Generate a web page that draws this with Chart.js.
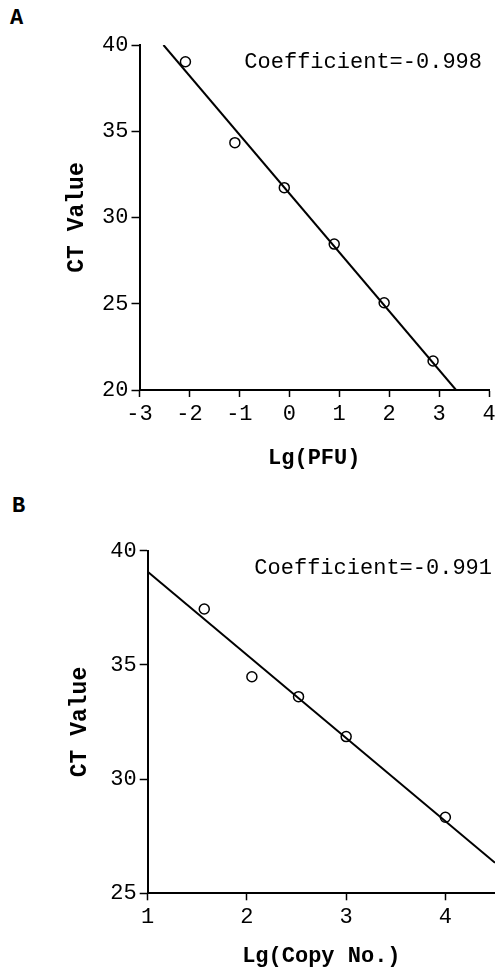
<!DOCTYPE html>
<html>
<head>
<meta charset="utf-8">
<script src="https://cdn.jsdelivr.net/npm/chart.js@4/dist/chart.umd.min.js"></script>
<style>
  body { margin: 0; background: #fff; }
  #wrap { position: relative; width: 495px; height: 974px; overflow: hidden; }
  canvas { position: absolute; left: 0; }
  .panel { position: absolute; font: bold 22px "Liberation Mono", monospace; color: #000; }
</style>
</head>
<body>
<div id="wrap">
  <div class="panel" style="left:10px; top:6px;">A</div>
  <canvas id="chartA" width="495" height="480" style="top:0"></canvas>
  <div class="panel" style="left:12px; top:494px;">B</div>
  <canvas id="chartB" width="495" height="494" style="top:480px"></canvas>
</div>
<script>
// Panel A: CT value vs lg(PFU)
const pfuX = [-2.08, -1.09, -0.10, 0.90, 1.90, 2.88];
const pfuCt = [39.03, 34.34, 31.73, 28.46, 25.06, 21.68];
const pfuFitX = [-2.52, 3.34];
const pfuFitCt = [40, 20];
const pfuTicks = [-3, -2, -1, 0, 1, 2, 3, 4];
const ctTicksA = [20, 25, 30, 35, 40];

// Panel B: CT value vs lg(copy number)
const copyX = [1.57, 2.05, 2.52, 3.00, 4.00];
const copyCt = [37.45, 34.48, 33.61, 31.86, 28.33];
const copyFitX = [1, 4.5];
const copyFitCt = [39.08, 26.34];
const copyTicks = [1, 2, 3, 4];
const ctTicksB = [25, 30, 35, 40];

const MONO = '"Liberation Mono", "Courier New", monospace';

const notePlugin = {
  id: 'note',
  afterDraw(chart, args, opts) {
    const a = chart.chartArea;
    const ctx = chart.ctx;
    ctx.save();
    ctx.font = '22px ' + MONO;
    ctx.fillStyle = '#000';
    ctx.textAlign = 'right';
    ctx.textBaseline = 'middle';
    ctx.fillText(opts.text, a.right + opts.dx, a.top + opts.dy);
    ctx.restore();
  }
};

function pts(xs, ys) {
  return xs.map((x, i) => ({ x: x, y: ys[i] }));
}

function makeChart(id, cfg) {
  return new Chart(document.getElementById(id), {
    type: 'scatter',
    data: {
      datasets: [
        {
          data: pts(cfg.x, cfg.y),
          pointStyle: 'circle',
          pointRadius: 5,
          borderColor: '#000',
          borderWidth: 1.5,
          backgroundColor: 'rgba(0,0,0,0)',
          showLine: false
        },
        {
          data: pts(cfg.fitX, cfg.fitY),
          showLine: true,
          borderColor: '#000',
          borderWidth: 2,
          pointRadius: 0
        }
      ]
    },
    options: {
      responsive: false,
      animation: false,
      devicePixelRatio: 1,
      layout: { padding: cfg.pad, autoPadding: false },
      plugins: {
        legend: { display: false },
        tooltip: { enabled: false },
        note: { text: cfg.note, dx: cfg.noteDx, dy: cfg.noteDy }
      },
      scales: {
        x: {
          type: 'linear',
          min: cfg.xMin,
          max: cfg.xMax,
          afterBuildTicks: s => { s.ticks = cfg.xTicks.map(v => ({ value: v })); },
          afterFit: s => { s.height = cfg.xH; s.paddingLeft = 0; s.paddingRight = 0; },
          border: { color: '#000', width: 2 },
          grid: { drawOnChartArea: false, tickLength: 7, tickColor: '#000', tickWidth: 1.5 },
          ticks: { color: '#000', font: { family: MONO, size: 22 }, padding: 4, maxRotation: 0 },
          title: {
            display: true, text: cfg.xTitle, color: '#000',
            font: { family: MONO, size: 22, weight: 'bold' },
            padding: { top: 0, bottom: cfg.xTitlePad }
          }
        },
        y: {
          type: 'linear',
          min: cfg.yMin,
          max: cfg.yMax,
          afterBuildTicks: s => { s.ticks = cfg.yTicks.map(v => ({ value: v })); },
          afterFit: s => { s.width = cfg.yW; s.paddingTop = 0; s.paddingBottom = 0; },
          border: { color: '#000', width: 2 },
          grid: { drawOnChartArea: false, tickLength: 8, tickColor: '#000', tickWidth: 1.5 },
          ticks: { color: '#000', font: { family: MONO, size: 22 }, padding: 3 },
          title: {
            display: true, text: 'CT Value', color: '#000',
            font: { family: MONO, size: 23, weight: 'bold' },
            padding: { top: cfg.yTitlePad, bottom: 0 }
          }
        }
      }
    },
    plugins: [notePlugin]
  });
}

makeChart('chartA', {
  x: pfuX, y: pfuCt, fitX: pfuFitX, fitY: pfuFitCt,
  xMin: -3, xMax: 4, yMin: 20, yMax: 40,
  xTicks: pfuTicks, yTicks: ctTicksA,
  pad: { top: 45, right: 6, left: 0, bottom: 0 },
  xH: 90, yW: 139.5, xTitle: 'Lg(PFU)', xTitlePad: 8, yTitlePad: 63,
  note: 'Coefficient=-0.998', noteDx: -7, noteDy: 17
});

makeChart('chartB', {
  x: copyX, y: copyCt, fitX: copyFitX, fitY: copyFitCt,
  xMin: 1, xMax: 4.5, yMin: 25, yMax: 40,
  xTicks: copyTicks, yTicks: ctTicksB,
  pad: { top: 70.7, right: 0, left: 0, bottom: 0 },
  xH: 80.7, yW: 147.7, xTitle: 'Lg(Copy No.)', xTitlePad: 4, yTitlePad: 66,
  note: 'Coefficient=-0.991', noteDx: -3, noteDy: 17
});
</script>
</body>
</html>
